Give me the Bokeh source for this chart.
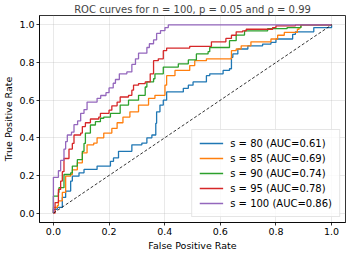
from bokeh.plotting import figure
from bokeh.models import Range1d, FixedTicker, NumeralTickFormatter, Legend, LegendItem
from bokeh.embed import file_html
from bokeh.resources import INLINE

title_text = "ROC curves for n = 100, p = 0.05 and ρ = 0.99"
x_label = "False Positive Rate"
y_label = "True Positive Rate"
ticks = [0.0, 0.2, 0.4, 0.6, 0.8, 1.0]

s_values = [80, 85, 90, 95, 100]
auc_values = [0.61, 0.69, 0.74, 0.78, 0.86]
colors = ["#1f77b4", "#ff7f0e", "#2ca02c", "#d62728", "#9467bd"]

fpr_80 = [0, 0, 0.014, 0.032, 0.044, 0.062, 0.068, 0.092, 0.11, 0.157,
          0.205, 0.216, 0.234, 0.282, 0.318, 0.336, 0.354, 0.368, 0.371, 0.383,
          0.395, 0.407, 0.467, 0.485, 0.502, 0.55, 0.562, 0.61, 0.633, 0.64,
          0.645, 0.663, 0.699, 0.752, 0.782, 0.80, 0.86, 0.87, 0.936, 1.0]
tpr_80 = [0, 0.02, 0.03, 0.083, 0.117, 0.17, 0.196, 0.214, 0.232, 0.25,
          0.275, 0.293, 0.328, 0.363, 0.372, 0.40, 0.415, 0.477, 0.538, 0.574,
          0.6, 0.644, 0.663, 0.68, 0.697, 0.73, 0.74, 0.758, 0.767, 0.828,
          0.846, 0.872, 0.889, 0.898, 0.907, 0.925, 0.95, 0.963, 0.986, 1.0]

fpr_85 = [0, 0, 0.014, 0.018, 0.032, 0.044, 0.062, 0.068, 0.086, 0.104,
          0.121, 0.145, 0.157, 0.181, 0.21, 0.229, 0.25, 0.275, 0.306, 0.342,
          0.365, 0.401, 0.407, 0.437, 0.49, 0.508, 0.55, 0.64, 0.657, 0.675,
          0.71, 0.782, 0.806, 0.83, 0.877, 0.883, 0.889, 1.0]
tpr_85 = [0, 0.03, 0.04, 0.065, 0.11, 0.196, 0.205, 0.23, 0.267, 0.32,
          0.363, 0.372, 0.4, 0.425, 0.45, 0.48, 0.51, 0.538, 0.574, 0.61,
          0.626, 0.68, 0.73, 0.758, 0.784, 0.81, 0.82, 0.863, 0.872, 0.889,
          0.91, 0.925, 0.945, 0.96, 0.977, 0.986, 1.0, 1.0]

fpr_90 = [0, 0, 0.018, 0.02, 0.038, 0.062, 0.068, 0.086, 0.104, 0.11,
          0.115, 0.133, 0.151, 0.169, 0.181, 0.205, 0.24, 0.27, 0.306, 0.33,
          0.336, 0.36, 0.365, 0.395, 0.449, 0.485, 0.514, 0.556, 0.562, 0.633,
          0.657, 0.687, 0.77, 0.84, 0.89, 1.0]
tpr_90 = [0, 0.09, 0.11, 0.135, 0.205, 0.214, 0.25, 0.284, 0.328, 0.37,
          0.425, 0.468, 0.486, 0.504, 0.51, 0.53, 0.574, 0.6, 0.626, 0.67,
          0.697, 0.714, 0.74, 0.776, 0.793, 0.814, 0.846, 0.858, 0.88, 0.916,
          0.946, 0.968, 0.98, 0.986, 1.0, 1.0]

fpr_95 = [0, 0.006, 0.018, 0.026, 0.032, 0.038, 0.056, 0.068, 0.074, 0.098,
          0.104, 0.115, 0.133, 0.163, 0.169, 0.20, 0.21, 0.229, 0.24, 0.27,
          0.282, 0.288, 0.306, 0.33, 0.348, 0.36, 0.377, 0.395, 0.407, 0.49,
          0.568, 0.62, 0.64, 0.657, 0.68, 0.693, 0.788, 0.80, 0.87, 1.0]
tpr_95 = [0, 0.056, 0.126, 0.17, 0.22, 0.29, 0.34, 0.37, 0.415, 0.425,
          0.46, 0.48, 0.50, 0.51, 0.53, 0.547, 0.57, 0.59, 0.617, 0.626,
          0.653, 0.68, 0.688, 0.697, 0.74, 0.81, 0.82, 0.863, 0.877, 0.886,
          0.91, 0.928, 0.945, 0.963, 0.968, 0.977, 0.986, 0.995, 1.0, 1.0]

fpr_100 = [0, 0, 0.018, 0.026, 0.038, 0.044, 0.05, 0.065, 0.074, 0.087,
           0.098, 0.11, 0.121, 0.157, 0.17, 0.189, 0.20, 0.215, 0.223, 0.237,
           0.264, 0.282, 0.295, 0.306, 0.336, 0.345, 0.36, 0.371, 0.385, 0.401,
           0.413, 1.0]
tpr_100 = [0, 0.19, 0.225, 0.28, 0.34, 0.38, 0.415, 0.43, 0.47, 0.49,
           0.53, 0.55, 0.59, 0.61, 0.625, 0.64, 0.665, 0.69, 0.71, 0.74,
           0.75, 0.79, 0.82, 0.85, 0.88, 0.9, 0.92, 0.955, 0.97, 0.986,
           1.0, 1.0]

diag = [0.0, 1.0]

series = [(fpr_80, tpr_80), (fpr_85, tpr_85), (fpr_90, tpr_90), (fpr_95, tpr_95), (fpr_100, tpr_100)]

FONT = "DejaVu Sans"

p = figure(width=349, height=253, output_backend="svg", toolbar_location=None,
           x_range=Range1d(-0.05, 1.05), y_range=Range1d(-0.05, 1.05),
           title=title_text)
p.min_border_left = 36
p.min_border_right = 4
p.min_border_top = 15
p.min_border_bottom = 29
p.background_fill_color = "white"
p.border_fill_color = "white"
p.outline_line_color = "black"
p.outline_line_width = 0.8

p.title.text_font = FONT
p.title.text_font_size = "10px"
p.title.text_font_style = "normal"
p.title.align = "center"
p.title.standoff = 2
p.title.offset = 0

for ax in (p.xaxis, p.yaxis):
    ax.ticker = FixedTicker(ticks=ticks)
    ax.formatter = NumeralTickFormatter(format="0.0")
    ax.major_label_text_font = FONT
    ax.major_label_text_font_size = "9.5px"
    ax.major_label_text_color = "black"
    ax.axis_label_text_font = FONT
    ax.axis_label_text_font_size = "9.5px"
    ax.axis_label_text_font_style = "normal"
    ax.axis_label_text_color = "black"
    ax.major_tick_out = 3
    ax.major_tick_in = 0
    ax.minor_tick_out = 0
    ax.minor_tick_in = 0
    ax.axis_line_color = "black"
    ax.axis_line_width = 0.8
    ax.major_tick_line_width = 0.8
    ax.major_label_standoff = 2
    ax.axis_label_standoff = 2
p.xaxis.axis_label = x_label
p.yaxis.axis_label = y_label

p.grid.grid_line_color = "#b0b0b0"
p.grid.grid_line_alpha = 0.35
p.grid.grid_line_width = 0.8

items = []
for (fx, ty), s, auc, c in zip(series, s_values, auc_values, colors):
    r = p.step(fx, ty, mode="after", line_color=c, line_width=1.3)
    items.append(LegendItem(label=f"s = {s} (AUC={auc:.2f})", renderers=[r]))

p.line(diag, diag, line_color="black", line_width=0.8, line_dash="3 2")

legend = Legend(items=items, location="bottom_right")
legend.label_text_font = FONT
legend.label_text_font_size = "10px"
legend.label_text_color = "black"
legend.glyph_width = 24
legend.glyph_height = 12
legend.label_height = 12
legend.spacing = 3
legend.padding = 7
legend.margin = 5
legend.label_standoff = 7
legend.border_line_color = "#cccccc"
legend.border_line_width = 0.8
legend.background_fill_alpha = 0.8
p.add_layout(legend, "center")

open("out.html", "w").write(file_html(p, INLINE))
